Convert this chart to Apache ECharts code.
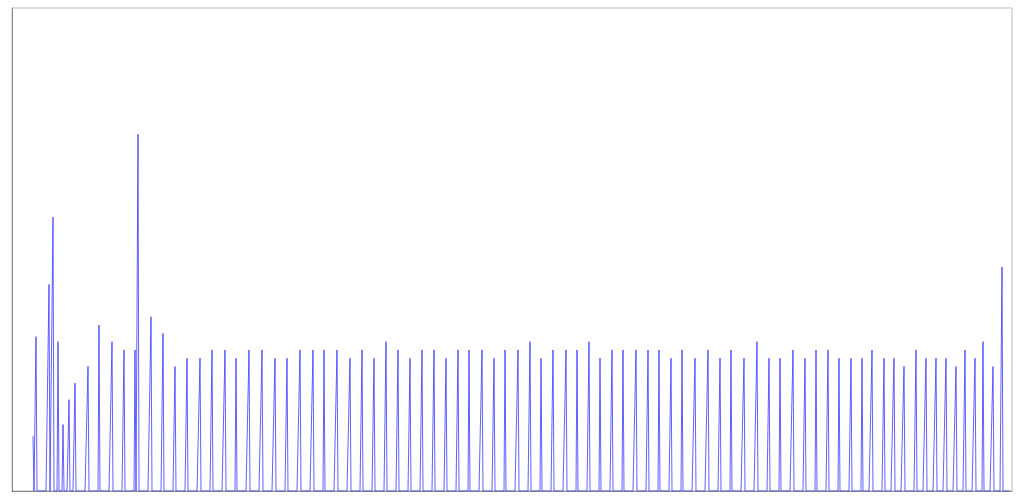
<!DOCTYPE html>
<html>
<head>
<meta charset="utf-8">
<script src="https://cdn.jsdelivr.net/npm/echarts@6/dist/echarts.min.js"></script>
<style>html,body{margin:0;padding:0;background:#fff}#c{width:1024px;height:500px}</style>
</head>
<body>
<div id="c"></div>
<script>
// Sample index of each spike (x) and its height (y)
const spikeIndex = [21, 24, 37, 41, 46, 51, 57, 63, 76, 87, 100, 112, 123, 126, 139, 151, 163, 175, 188, 200,
  213, 224, 237, 250, 263, 275, 288, 301, 312, 325, 338, 350, 362, 374, 386, 398, 410, 422, 434, 446,
  457, 470, 482, 493, 506, 518, 529, 541, 554, 565, 577, 588, 600, 611, 624, 636, 647, 659, 670, 683,
  696, 708, 719, 732, 745, 757, 768, 781, 793, 804, 816, 827, 839, 850, 860, 872, 882, 892, 904, 914,
  924, 934, 944, 953, 963, 971, 981, 990];
const spikeValue = [6.6, 18.6, 24.9, 33, 18, 8, 11, 13, 15, 20, 18, 17, 17, 43, 21, 19, 15, 16, 16, 17,
  17, 16, 17, 17, 16, 16, 17, 17, 17, 17, 16, 17, 16, 18, 17, 16, 17, 17, 16, 17,
  17, 17, 16, 17, 17, 18, 16, 17, 17, 17, 18, 16, 17, 17, 17, 17, 17, 16, 17, 16,
  17, 16, 17, 16, 18, 16, 16, 17, 16, 17, 17, 16, 16, 16, 17, 16, 16, 15, 17, 16,
  16, 16, 15, 17, 16, 18, 15, 27];
const firstSample = 21;
const lastSample = 998;
const xMin = 0, xMax = 1000;
const yMin = 0, yMax = 58.2;

const lookup = {};
spikeIndex.forEach((t, i) => { lookup[t] = spikeValue[i]; });
const seriesData = [];
for (let t = firstSample; t <= lastSample; t++) {
  seriesData.push([t, lookup[t] !== undefined ? lookup[t] : 0]);
}

const chart = echarts.init(document.getElementById('c'));
chart.setOption({
  animation: false,
  grid: { left: 12, right: 12, top: 8, bottom: 9, show: true, borderColor: '#bbbbbb', borderWidth: 1, backgroundColor: '#fff' },
  xAxis: {
    type: 'value', min: xMin, max: xMax,
    axisLine: { show: true, onZero: false, lineStyle: { color: '#888888', width: 1 } },
    axisTick: { show: false }, axisLabel: { show: false }, splitLine: { show: false }
  },
  yAxis: {
    type: 'value', min: yMin, max: yMax,
    axisLine: { show: true, lineStyle: { color: '#888888', width: 1 } },
    axisTick: { show: false }, axisLabel: { show: false }, splitLine: { show: false }
  },
  series: [{
    type: 'line',
    data: seriesData,
    showSymbol: false,
    symbol: 'none',
    lineStyle: { color: '#3a3aff', width: 1, opacity: 0.8 },
    itemStyle: { color: '#3a3aff' },
    z: 3
  }]
});
</script>
</body>
</html>
